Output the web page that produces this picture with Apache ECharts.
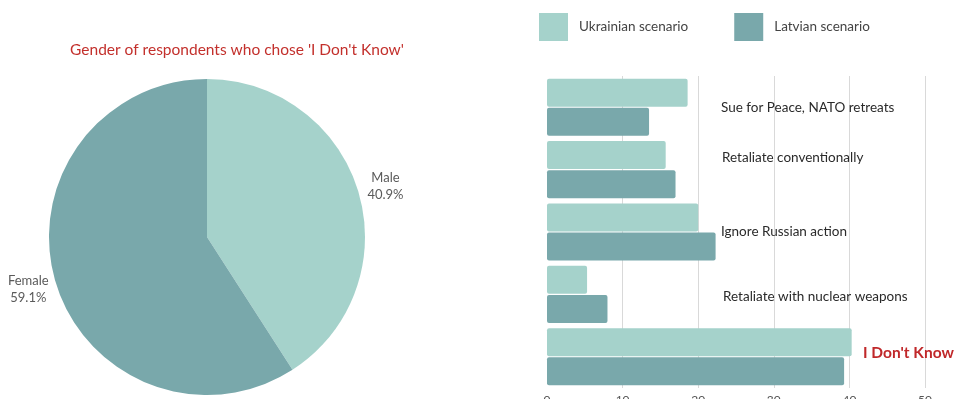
<!DOCTYPE html>
<html>
<head>
<meta charset="utf-8">
<script src="https://cdn.jsdelivr.net/npm/echarts@6/dist/echarts.min.js"></script>
<style>html,body{margin:0;padding:0;background:#fff}#c{width:955px;height:399px}</style>
</head>
<body>
<div id="c"></div>
<script>
const pieTitle = "Gender of respondents who chose 'I Don't Know'";
const genders = ['Male', 'Female'];
const genderShares = [40.9, 59.1];
const categories = ['Sue for Peace, NATO retreats', 'Retaliate conventionally', 'Ignore Russian action', 'Retaliate with nuclear weapons', "I Don't Know"];
const seriesNames = ['Ukrainian scenario', 'Latvian scenario'];
const ukrainian = [18.6, 15.7, 20.0, 5.3, 40.3];
const latvian = [13.5, 17.0, 22.3, 8.0, 39.3];
const xTicks = [0, 10, 20, 30, 40, 50];

const LIGHT = '#a5d2cb', DARK = '#79a8ab';
const FONT = 'Lato, "Open Sans", sans-serif';
const chart = echarts.init(document.getElementById('c'));
const labelKeys = ['c0', 'c1', 'c2', 'c3', 'c4'];
const pieLabelPadding = [[0, 0, 10, 0], [14, 0, 0, 0]];

chart.setOption({
  animation: false,
  textStyle: { fontFamily: FONT },
  title: {
    text: pieTitle, left: 232, top: 37, textAlign: 'center',
    textStyle: { color: '#c3302c', fontSize: 15.5, fontWeight: 'normal', fontFamily: FONT }
  },
  legend: {
    left: 534, top: 8, itemWidth: 29, itemHeight: 28, itemGap: 46, icon: 'rect',
    data: seriesNames,
    textStyle: { color: '#444', fontSize: 13.5, padding: [0, 0, 0, 6], fontFamily: FONT }
  },
  grid: { left: 547, right: 30, top: 76, bottom: 11, containLabel: false, outerBoundsMode: 'none' },
  xAxis: {
    type: 'value', min: xTicks[0], max: xTicks[xTicks.length - 1], interval: 10,
    axisLine: { show: false }, axisTick: { show: false },
    axisLabel: { color: '#555', fontSize: 12, margin: 6 },
    splitLine: { show: true, showMinLine: false, lineStyle: { color: '#d9d9d9', width: 1 } }
  },
  yAxis: {
    type: 'category', data: categories, inverse: true,
    axisLine: { show: false }, axisTick: { show: false },
    axisLabel: {
      inside: true, margin: 174,
      formatter: function (v, i) { return '{' + labelKeys[i] + '|' + v + '}'; },
      rich: {
        c0: { color: '#2a2a2a', fontSize: 13.5, fontFamily: FONT },
        c1: { color: '#2a2a2a', fontSize: 13.5, fontFamily: FONT, padding: [0, 0, 24, 1] },
        c2: { color: '#2a2a2a', fontSize: 13.5, fontFamily: FONT },
        c3: { color: '#2a2a2a', fontSize: 13.5, fontFamily: FONT, padding: [4, 0, 0, 2] },
        c4: { color: '#c0282a', fontSize: 15.5, fontWeight: 'bold', fontFamily: FONT, padding: [0, 0, 8, 142] }
      }
    }
  },
  series: [
    {
      type: 'pie', center: [207, 237], radius: 158, startAngle: 90, clockwise: true,
      data: genders.map((g, i) => ({
        name: g, value: genderShares[i],
        itemStyle: { color: i === 0 ? LIGHT : DARK },
        label: { padding: pieLabelPadding[i] }
      })),
      label: {
        show: true, position: 'outside', color: '#5a5a5a', fontSize: 13, overflow: 'none',
        formatter: '{a|{b}}\n{a|{c}%}',
        rich: { a: { align: 'center', color: '#5a5a5a', fontSize: 13, lineHeight: 17, fontFamily: FONT } }
      },
      labelLine: { show: false, length: 4, length2: 0 },
      emphasis: { disabled: true }
    },
    {
      type: 'bar', name: seriesNames[0], data: ukrainian, barWidth: 28, barGap: '4%',
      itemStyle: { color: LIGHT, borderRadius: 2 }
    },
    {
      type: 'bar', name: seriesNames[1], data: latvian, barWidth: 28, barGap: '4%',
      itemStyle: { color: DARK, borderRadius: 2 }
    }
  ]
});
</script>
</body>
</html>
